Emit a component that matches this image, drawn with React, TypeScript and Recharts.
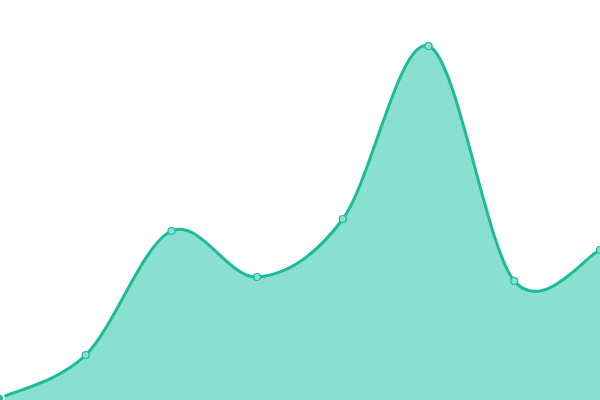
import { AreaChart, Area, XAxis, YAxis } from "recharts";

// One value per point (scale 0..400)
const categories = ["A", "B", "C", "D", "E", "F", "G", "H"];
const values = [2, 45, 169, 123, 181, 354, 119, 150];

const data = categories.map((name, i) => ({ name, value: values[i] }));

// Catmull-Rom style curve (cardinal, tension 0) - softer than "natural"
function catmullRom(context: any) {
  let line = NaN;
  let pts: number[][] = [];
  return {
    areaStart() {
      line = 0;
    },
    areaEnd() {
      line = NaN;
    },
    lineStart() {
      pts = [];
    },
    point(x: number, y: number) {
      pts.push([+x, +y]);
    },
    lineEnd() {
      const n = pts.length;
      if (n) {
        if (line) context.lineTo(pts[0][0], pts[0][1]);
        else context.moveTo(pts[0][0], pts[0][1]);
        for (let i = 0; i < n - 1; i++) {
          const p0 = pts[Math.max(i - 1, 0)];
          const p1 = pts[i];
          const p2 = pts[i + 1];
          const p3 = pts[Math.min(i + 2, n - 1)];
          context.bezierCurveTo(
            p1[0] + (p2[0] - p0[0]) / 6,
            p1[1] + (p2[1] - p0[1]) / 6,
            p2[0] - (p3[0] - p1[0]) / 6,
            p2[1] - (p3[1] - p1[1]) / 6,
            p2[0],
            p2[1]
          );
        }
      }
      if (line || (line !== 0 && n === 1)) context.closePath();
      line = 1 - line;
    },
  };
}

export default function App() {
  return (
    <div style={{ position: "fixed", top: 0, left: 0, width: 600, height: 400, background: "#fff" }}>
      <AreaChart width={600} height={400} data={data} margin={{ top: 0, right: 0, bottom: 0, left: 0 }}>
        <XAxis dataKey="name" hide />
        <YAxis hide domain={[0, 400]} />
        <Area
          type={catmullRom as any}
          dataKey="value"
          stroke="#1dbb96"
          strokeWidth={3}
          fill="#8ae0d0"
          fillOpacity={1}
          dot={{ r: 3.5, fill: "#8ae0d0", stroke: "#1dbb96", strokeWidth: 1.2 }}
          isAnimationActive={false}
        />
      </AreaChart>
    </div>
  );
}
